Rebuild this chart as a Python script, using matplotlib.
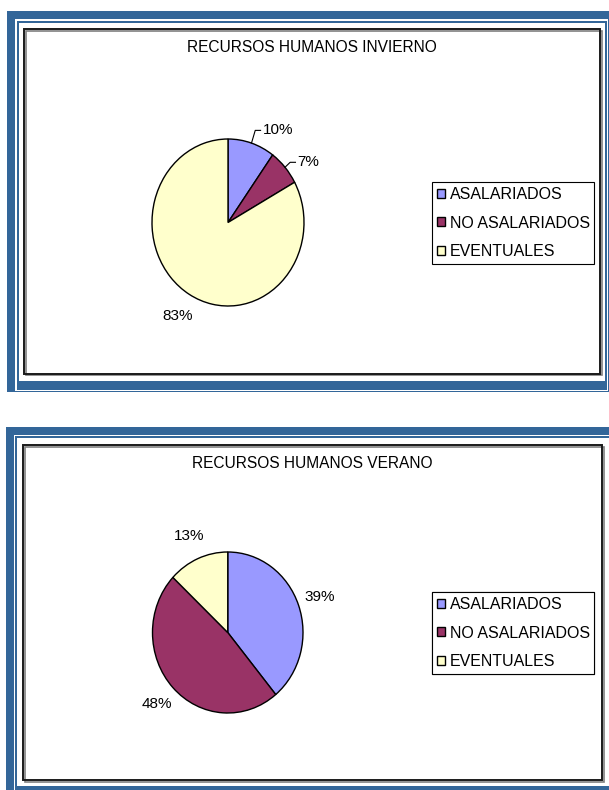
import numpy as np
import matplotlib.pyplot as plt
from matplotlib.patches import Rectangle

plt.rcParams['font.family'] = ['Liberation Sans', 'DejaVu Sans']

W, H = 609, 790

# datos
categorias = ['ASALARIADOS', 'NO ASALARIADOS', 'EVENTUALES']
colores = ['#9999FF', '#993366', '#FFFFCC']
invierno = [10, 7, 83]
verano = [39, 48, 13]
titulo_invierno = 'RECURSOS HUMANOS INVIERNO'
titulo_verano = 'RECURSOS HUMANOS VERANO'
AZUL = '#336699'

fig = plt.figure(figsize=(W / 100, H / 100), dpi=100)
bg = fig.add_axes([0, 0, 1, 1])
bg.set_xlim(0, W)
bg.set_ylim(H, 0)
bg.axis('off')


def caja(x0, y0, x1, y1, **kw):
    bg.add_patch(Rectangle((x0, y0), x1 - x0, y1 - y0, **kw))


def ejes_px(x0, y0, x1, y1):
    # axes placed from pixel box (y measured from top)
    return fig.add_axes([x0 / W, 1 - y1 / H, (x1 - x0) / W, (y1 - y0) / H])


def borde(capas, marco):
    # capas: list of (x0, y0, x1, y1, color) filled one over the other
    for x0, y0, x1, y1, c in capas:
        caja(x0, y0, x1, y1, facecolor=c, edgecolor='none')
    x0, y0, x1, y1 = marco
    caja(x0 + 1.5, y0 + 1.5, x1 + 1.5, y1 + 1.5, facecolor='none', edgecolor='#7f7f7f', lw=1.2)
    caja(x0, y0, x1, y1, facecolor='none', edgecolor='#1a1a1a', lw=1.4)


def tarta(ax, valores, con_guia):
    wedges, _ = ax.pie(valores, colors=colores, startangle=90, counterclock=False,
                       wedgeprops=dict(edgecolor='black', linewidth=1))
    ax.set_aspect('auto')
    ax.set_xlim(-1, 1)
    ax.set_ylim(-1, 1)
    for w, v, guia in zip(wedges, valores, con_guia):
        ang = np.deg2rad((w.theta1 + w.theta2) / 2)
        c, s = np.cos(ang), np.sin(ang)
        if guia:
            ex, ey = guia * c, guia * s
            ax.plot([c, ex, ex + 0.07], [s, ey, ey], color='black', lw=0.8, clip_on=False)
            ax.text(ex + 0.1, ey, f'{v}%', ha='left', va='center', fontsize=11)
        else:
            ax.text(1.3 * c, 1.3 * s, f'{v}%', ha='center', va='center', fontsize=11)
    return wedges


def leyenda(wedges, x, y):
    leg = bg.legend(wedges, categorias, loc='upper left', bbox_to_anchor=(x, y),
                    bbox_transform=bg.transData, fontsize=11.5, frameon=True, fancybox=False,
                    edgecolor='black', framealpha=1, handlelength=0.5, handleheight=0.5,
                    handletextpad=0.3, labelspacing=0.86, borderpad=0.3, borderaxespad=0)
    leg.get_frame().set_linewidth(0.8)
    bg.add_artist(leg)


# panel superior
borde([(7, 11, 640, 392, AZUL), (15, 19, 608, 390.5, 'white'),
       (17, 21, 607, 389.5, AZUL), (19, 23, 605, 381, 'white')],
      (24, 29, 600, 373.5))
bg.text(312, 48, titulo_invierno, ha='center', va='center', fontsize=11.2)
ax1 = ejes_px(152, 139, 304, 306)
w1 = tarta(ax1, invierno, [1.16, 1.09, 0])
leyenda(w1, 432, 182)

# panel inferior
borde([(6, 427, 640, 800, AZUL), (14, 435, 640, 800, 'white'),
       (15, 436, 640, 800, AZUL), (17, 438, 640, 786, 'white')],
      (23, 445, 602, 780))
bg.text(312, 464, titulo_verano, ha='center', va='center', fontsize=11.2)
ax2 = ejes_px(152.5, 552, 303, 713)
w2 = tarta(ax2, verano, [0, 0, 0])
leyenda(w2, 432, 592)

fig.savefig('out.png', dpi=100)
